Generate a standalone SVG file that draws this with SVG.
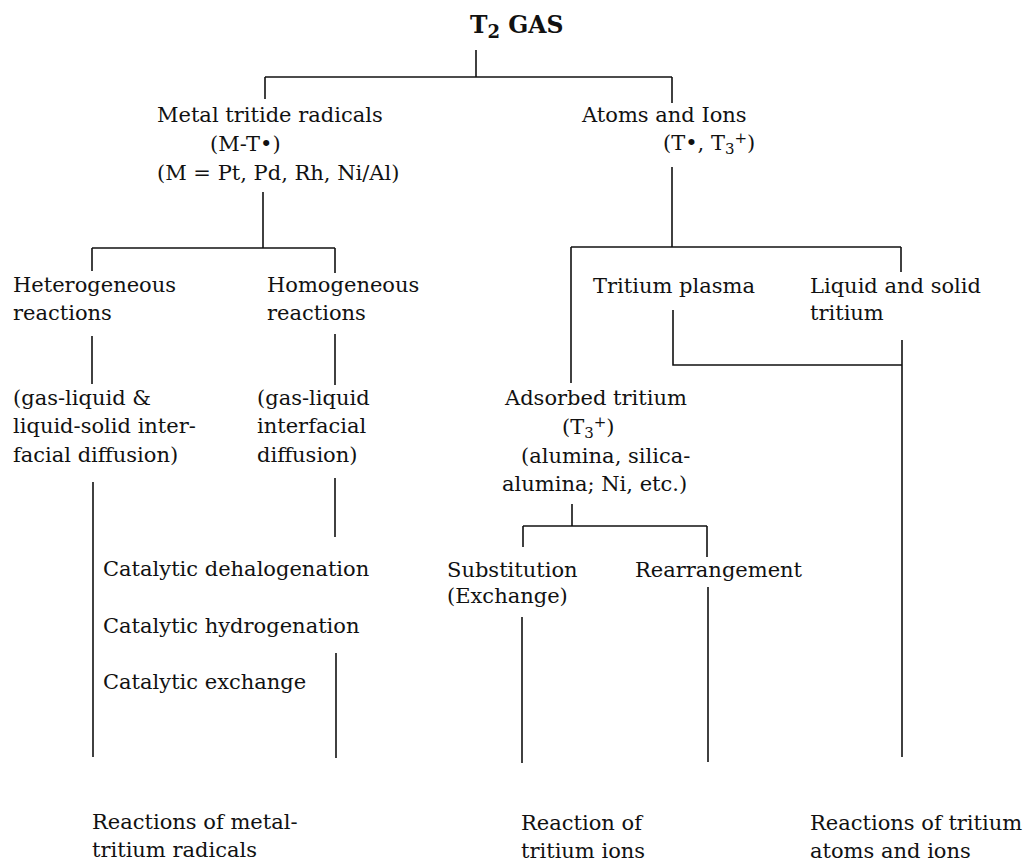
<svg xmlns="http://www.w3.org/2000/svg" width="1023" height="862" viewBox="0 0 1023 862">
<style>
text{font-family:"DejaVu Serif","Liberation Serif",serif;font-size:21px;fill:#111}
.title{font-weight:bold;font-size:23.5px}
.c line,.c polyline{stroke:#111;stroke-width:1.6;fill:none}
</style>
<rect width="1023" height="862" fill="#fff"/>
<g class="c" id="connectors">
<line x1="476" y1="50" x2="476" y2="77"/>
<line x1="265" y1="77" x2="672" y2="77"/>
<line x1="265" y1="77" x2="265" y2="99"/>
<line x1="672" y1="77" x2="672" y2="103"/>
<line x1="263" y1="192" x2="263" y2="248"/>
<line x1="92" y1="248" x2="335" y2="248"/>
<line x1="92" y1="248" x2="92" y2="271"/>
<line x1="335" y1="248" x2="335" y2="273"/>
<line x1="92" y1="336" x2="92" y2="384"/>
<line x1="335" y1="334" x2="335" y2="385"/>
<line x1="93" y1="482" x2="93" y2="757"/>
<line x1="335" y1="478" x2="335" y2="537"/>
<line x1="336" y1="653" x2="336" y2="758"/>
<line x1="672" y1="167" x2="672" y2="247"/>
<line x1="571" y1="247" x2="901" y2="247"/>
<line x1="571" y1="247" x2="571" y2="383"/>
<line x1="901" y1="247" x2="901" y2="272"/>
<polyline points="673,310 673,365 902,365"/>
<line x1="902" y1="340" x2="902" y2="757"/>
<line x1="572" y1="504" x2="572" y2="526"/>
<line x1="523" y1="526" x2="707" y2="526"/>
<line x1="523" y1="526" x2="523" y2="547"/>
<line x1="707" y1="526" x2="707" y2="557"/>
<line x1="522" y1="617" x2="522" y2="763"/>
<line x1="708" y1="587" x2="708" y2="762"/>
</g>
<g id="t2gas"><text class="title" x="470" y="33">T<tspan font-size="18" dy="5">2</tspan><tspan dy="-5"> GAS</tspan></text></g>
<g id="metal">
<text x="157" y="122">Metal tritide radicals</text>
<text x="210" y="151">(M-T•)</text>
<text x="157" y="180">(M = Pt, Pd, Rh, Ni/Al)</text>
</g>
<g id="atoms">
<text x="582" y="122">Atoms and Ions</text>
<text x="663" y="150">(T•, T<tspan font-size="15" dy="4">3</tspan><tspan font-size="15" dy="-11">+</tspan><tspan dy="7">)</tspan></text>
</g>
<g id="hetero"><text x="13" y="292">Heterogeneous</text><text x="13" y="320">reactions</text></g>
<g id="homo"><text x="267" y="292">Homogeneous</text><text x="267" y="320">reactions</text></g>
<g id="hetero-diff"><text x="13" y="405">(gas-liquid &amp;</text><text x="13" y="433">liquid-solid inter-</text><text x="13" y="462">facial diffusion)</text></g>
<g id="homo-diff"><text x="257" y="405">(gas-liquid</text><text x="257" y="433">interfacial</text><text x="257" y="462">diffusion)</text></g>
<g id="plasma"><text x="593" y="293">Tritium plasma</text></g>
<g id="liquid"><text x="810" y="293">Liquid and solid</text><text x="810" y="320">tritium</text></g>
<g id="adsorbed">
<text x="505" y="405">Adsorbed tritium</text>
<text x="562" y="434">(T<tspan font-size="15" dy="4">3</tspan><tspan font-size="15" dy="-11">+</tspan><tspan dy="7">)</tspan></text>
<text x="521" y="463">(alumina, silica-</text>
<text x="502" y="491">alumina; Ni, etc.)</text>
</g>
<g id="subst"><text x="447" y="577">Substitution</text><text x="447" y="603">(Exchange)</text></g>
<g id="rearr"><text x="635" y="577">Rearrangement</text></g>
<g id="catalytic">
<text x="103" y="576">Catalytic dehalogenation</text>
<text x="103" y="633">Catalytic hydrogenation</text>
<text x="103" y="689">Catalytic exchange</text>
</g>
<g id="out-metal"><text x="92" y="829">Reactions of metal-</text><text x="92" y="857">tritium radicals</text></g>
<g id="out-ions"><text x="521" y="830">Reaction of</text><text x="521" y="858">tritium ions</text></g>
<g id="out-atoms"><text x="810" y="830">Reactions of tritium</text><text x="810" y="858">atoms and ions</text></g>
</svg>
